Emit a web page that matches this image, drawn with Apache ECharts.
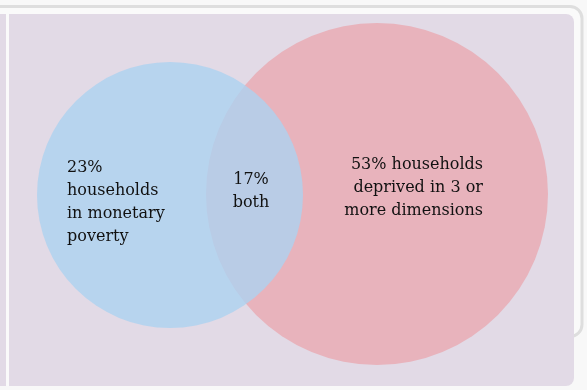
<!DOCTYPE html>
<html>
<head>
<meta charset="utf-8">
<script src="https://cdn.jsdelivr.net/npm/echarts@6/dist/echarts.min.js"></script>
<style>
  html, body { margin: 0; padding: 0; background: #f8f8f8; }
  #chart { width: 587px; height: 390px; }
</style>
</head>
<body>
<div id="chart"></div>
<script>
// circles (drawn in order: pink first, blue on top)
const setNames = ['deprived', 'monetary'];
const centerX = [377, 170];
const centerY = [194, 195];
const radius = [171, 133];

// labels
const labelTexts = [
  '23%\nhouseholds\nin monetary\npoverty',
  '17%\nboth',
  '53% households\ndeprived in 3 or\nmore dimensions'
];
const labelX = [67, 251, 483];
const labelY = [202, 191, 188];

const circleColors = ['#e8b3bc', 'rgba(172, 210, 240, 0.8)'];
const labelPos = ['right', 'inside', 'left'];

const chart = echarts.init(document.getElementById('chart'));

const option = {
  backgroundColor: '#f8f8f8',
  animation: false,
  graphic: [
    // frame around the plot area
    { type: 'rect', z: -10, shape: { x: -60, y: 6.5, width: 642, height: 330, r: 12 },
      style: { fill: '#fafafa', stroke: '#dedede', lineWidth: 3 } },
    { type: 'rect', z: -9, shape: { x: 0, y: 14, width: 574, height: 372, r: [0, 8, 8, 0] },
      style: { fill: '#e2dae6' } },
    { type: 'rect', z: -8, shape: { x: 6, y: 14, width: 3, height: 372 },
      style: { fill: '#fafafa' } }
  ],
  grid: { left: 0, right: 0, top: 0, bottom: 0 },
  xAxis: { type: 'value', min: 0, max: 587, show: false },
  yAxis: { type: 'value', min: 0, max: 390, inverse: true, show: false },
  series: [
    {
      type: 'custom',
      name: 'circles',
      data: setNames.map((n, i) => [centerX[i], centerY[i], radius[i]]),
      renderItem: function (params, api) {
        const c = api.coord([api.value(0), api.value(1)]);
        const r = api.size([api.value(2), 0])[0];
        return {
          type: 'circle',
          shape: { cx: c[0], cy: c[1], r: r },
          style: { fill: circleColors[params.dataIndex] }
        };
      },
      silent: true
    },
    {
      type: 'scatter',
      symbolSize: 0,
      itemStyle: { opacity: 1 },
      data: labelTexts.map((t, i) => ({
        value: [labelX[i], labelY[i]],
        label: {
          show: true,
          formatter: t,
          position: labelPos[i],
          distance: 0,
          fontFamily: 'DejaVu Serif',
          fontSize: 16,
          lineHeight: 23,
          color: '#111'
        }
      })),
      silent: true
    }
  ]
};

chart.setOption(option);
</script>
</body>
</html>
